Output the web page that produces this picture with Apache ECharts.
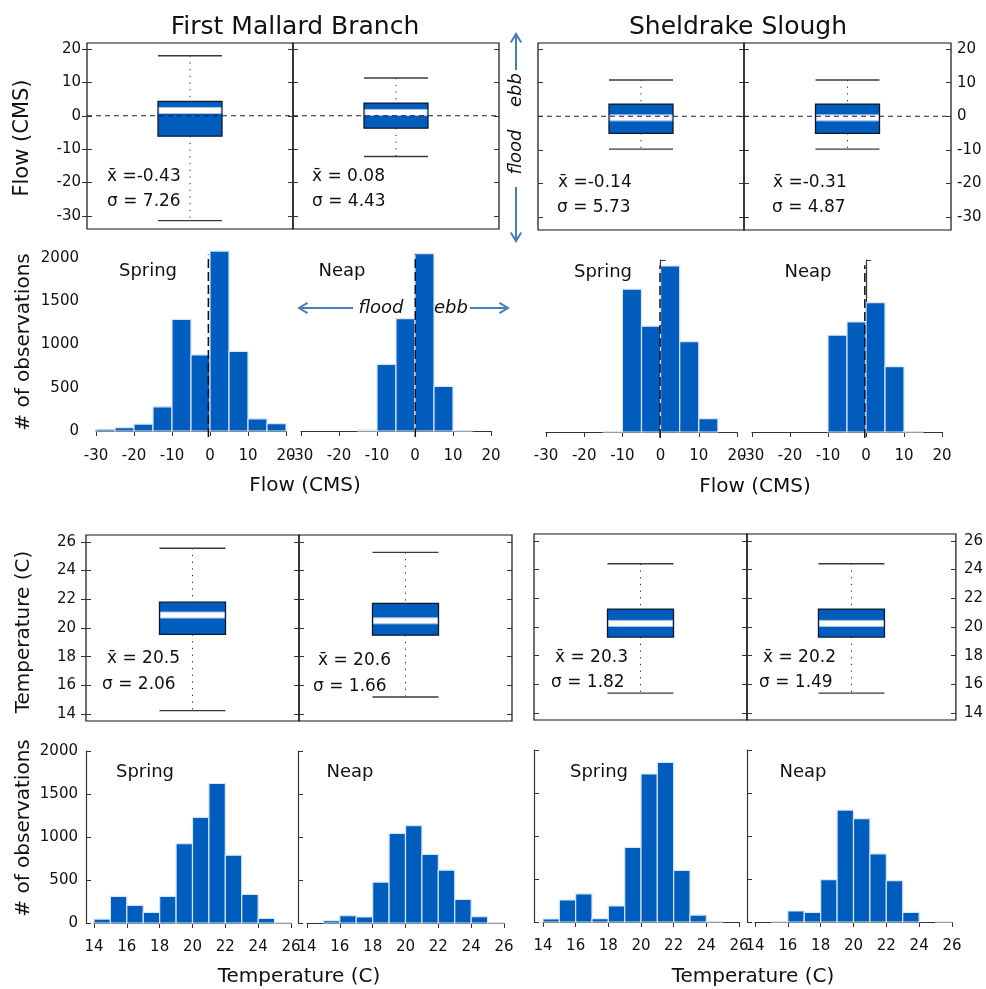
<!DOCTYPE html>
<html><head><meta charset="utf-8">
<script src="https://cdn.jsdelivr.net/npm/echarts@6/dist/echarts.min.js"></script>
<style>html,body{margin:0;padding:0;background:#fff}#c{width:986px;height:989px}</style>
</head><body><div id="c"></div>
<script>
// ---------------- DATA ----------------
const sites = ['First Mallard Branch', 'Sheldrake Slough'];
const tides = ['Spring', 'Neap', 'Spring', 'Neap'];

// Box-plot summaries [min, Q1, median, Q3, max]
const flowBoxSpringFMB = [-31.4, -6.1, 1.6, 4.3, 18.0];
const flowBoxNeapFMB   = [-12.2, -3.7, 1.0, 3.8, 11.3];
const flowBoxSpringSS  = [-9.8, -5.1, -0.5, 3.6, 10.8];
const flowBoxNeapSS    = [-9.8, -5.1, -0.5, 3.6, 10.8];
const tempBoxSpringFMB = [14.25, 19.55, 20.9, 21.8, 25.55];
const tempBoxNeapFMB   = [15.2, 19.5, 20.5, 21.72, 25.26];
const tempBoxSpringSS  = [15.4, 19.3, 20.25, 21.25, 24.4];
const tempBoxNeapSS    = [15.4, 19.3, 20.25, 21.25, 24.4];

const flowMeans = [-0.43, 0.08, -0.14, -0.31];
const flowSDs   = [7.26, 4.43, 5.73, 4.87];
const tempMeans = [20.5, 20.6, 20.3, 20.2];
const tempSDs   = [2.06, 1.66, 1.82, 1.49];

const flowBoxTicks = [-30, -20, -10, 0, 10, 20];
const tempBoxTicks = [14, 16, 18, 20, 22, 24, 26];

// Histogram bin edges and counts
const flowEdges = [-30, -25, -20, -15, -10, -5, 0, 5, 10, 15, 20];
const flowSpringFMB = [20, 40, 80, 280, 1290, 880, 2080, 920, 140, 85];
const flowNeapFMB   = [0, 0, 0, 10, 770, 1300, 2050, 515, 5, 0];
const flowSpringSS  = [0, 0, 0, 5, 1660, 1230, 1930, 1050, 155, 0];
const flowNeapSS    = [0, 0, 0, 0, 1125, 1280, 1505, 760, 3, 0];
const flowDashTop   = [2040, 2040, 1940, 1940];

const tempEdges = [14, 15, 16, 17, 18, 19, 20, 21, 22, 23, 24, 25, 26];
const tempSpringFMB = [46, 309, 205, 124, 309, 923, 1228, 1622, 788, 332, 54, 3];
const tempNeapFMB   = [0, 27, 85, 70, 475, 1042, 1131, 799, 614, 274, 73, 2];
const tempSpringSS  = [35, 256, 326, 39, 186, 868, 1721, 1857, 601, 81, 3, 0];
const tempNeapSS    = [0, 5, 128, 112, 492, 1302, 1202, 791, 481, 112, 0, 2];

// ---------------- BUILD ----------------
const FONT = 'DejaVu Sans';
const BLUE = '#005dbd';
const INK = '#111';
const ARROW = '#4a7ebb';
const grids = [], xAxes = [], yAxes = [], series = [], graphics = [];
const addGrid = g => (grids.push(g), grids.length - 1);
const addX = a => (xAxes.push(a), xAxes.length - 1);
const addY = a => (yAxes.push(a), yAxes.length - 1);
const plain = v => String(v);

function renderBox(halfW) {
  return function (params, api) {
    const y = v => api.coord([0, v])[1];
    const cx = api.coord([0, 0])[0];
    const lo = y(api.value(1)), q1 = y(api.value(2)), md = y(api.value(3)),
          q3 = y(api.value(4)), hi = y(api.value(5));
    const dot = { stroke: '#222', lineWidth: 1, lineDash: [1.2, 5.5] };
    const cap = { stroke: '#3a3a3a', lineWidth: 1.4 };
    return { type: 'group', children: [
      { type: 'line', shape: { x1: cx, y1: hi, x2: cx, y2: q3 }, style: dot },
      { type: 'line', shape: { x1: cx, y1: q1, x2: cx, y2: lo }, style: dot },
      { type: 'line', shape: { x1: cx - halfW, y1: hi, x2: cx + halfW, y2: hi }, style: cap },
      { type: 'line', shape: { x1: cx - halfW, y1: lo, x2: cx + halfW, y2: lo }, style: cap },
      { type: 'rect', shape: { x: cx - halfW, y: q3, width: 2 * halfW, height: q1 - q3 },
        style: { fill: BLUE, stroke: '#0d1a2b', lineWidth: 1.3 } },
      { type: 'rect', shape: { x: cx - halfW + 1, y: md - 3, width: 2 * halfW - 2, height: 6 },
        style: { fill: '#ffffff', stroke: '#a6c4ea', lineWidth: 1 } }
    ]};
  };
}

function renderBar(params, api) {
  const c = api.value(2);
  if (!c) return null;
  const p0 = api.coord([api.value(0), 0]);
  const p1 = api.coord([api.value(1), c]);
  return { type: 'rect',
    shape: { x: p0[0], y: p1[1], width: p1[0] - p0[0], height: p0[1] - p1[1] },
    style: { fill: BLUE, stroke: '#d6e5f7', lineWidth: 1.2 } };
}

function tickAxis(gi, min, max, ticks, position, inside, showLabel, margin) {
  addY({ gridIndex: gi, type: 'value', min, max, position,
    axisLine: { show: false }, splitLine: { show: false },
    axisTick: { show: true, inside, length: 5, customValues: ticks, lineStyle: { color: '#333', width: 1 } },
    axisLabel: { show: showLabel, customValues: ticks, margin, fontSize: 15, fontFamily: FONT, color: INK, formatter: plain } });
}

function boxPanel(p, ymin, ymax, ticks, stats, halfW, zero) {
  const gi = addGrid({ left: p.left, top: p.top, width: p.width, height: p.height,
    show: true, borderColor: '#111', borderWidth: 1.2 });
  const xi = addX({ gridIndex: gi, type: 'value', min: -1, max: 1, show: false });
  const yi = addY({ gridIndex: gi, type: 'value', min: ymin, max: ymax, show: false });
  tickAxis(gi, ymin, ymax, ticks, 'left', true, false, 0);
  if (p.leftCross) tickAxis(gi, ymin, ymax, ticks, 'left', false, !!p.labelsLeft, p.margin);
  if (p.rightTicks) tickAxis(gi, ymin, ymax, ticks, 'right', true, !!p.labelsRight, p.margin);
  series.push({ type: 'custom', xAxisIndex: xi, yAxisIndex: yi, silent: true,
    data: [[0].concat(stats)], encode: { x: 0, y: [1, 2, 3, 4, 5] }, renderItem: renderBox(halfW), z: 2 });
  if (zero) series.push({ type: 'line', xAxisIndex: xi, yAxisIndex: yi, silent: true, symbol: 'none', z: 5,
    data: [[-1, 0], [1, 0]], lineStyle: { color: '#222', width: 1.1, type: [5, 4] } });
}

function histPanel(p, xmin, xmax, xint, edges, counts, showY, dash) {
  const gi = addGrid({ left: p.left, top: p.top, width: p.width, height: p.height });
  const xi = addX({ gridIndex: gi, type: 'value', min: xmin, max: xmax, interval: xint, offset: p.xOff,
    axisLine: { show: true, lineStyle: { color: '#333', width: 1.2 } },
    axisTick: { show: true, inside: false, length: 5, lineStyle: { color: '#333' } },
    axisLabel: { show: true, margin: 10, fontSize: 15, fontFamily: FONT, color: INK, showMinLabel: true, showMaxLabel: true, formatter: plain },
    splitLine: { show: false } });
  const yi = addY({ gridIndex: gi, type: 'value', min: 0, max: 2000, interval: 500, offset: p.yOff,
    axisLine: { show: true, lineStyle: { color: '#333', width: 1.2 } },
    axisTick: { show: true, inside: true, length: 5, lineStyle: { color: '#333' } },
    axisLabel: { show: showY, margin: 8, fontSize: 15, fontFamily: FONT, color: INK, formatter: plain },
    splitLine: { show: false } });
  series.push({ type: 'custom', xAxisIndex: xi, yAxisIndex: yi, silent: true, clip: false,
    data: counts.map((c, i) => [edges[i], edges[i + 1], c]), encode: { x: [0, 1], y: 2 }, renderItem: renderBar });
  if (dash) series.push({ type: 'line', xAxisIndex: xi, yAxisIndex: yi, silent: true, symbol: 'none', clip: false, z: 5,
    data: [[dash[0], -70], [dash[0], dash[1]]], lineStyle: { color: '#111', width: 1.5, type: [9, 4], cap: 'butt' } });
}

function txt(text, x, y, size, o) {
  o = o || {};
  graphics.push({ type: 'text', x, y, rotation: o.rot || 0, z: 100, silent: true,
    style: { text, fontSize: size, fontFamily: FONT, fontStyle: o.italic ? 'italic' : 'normal',
      fill: o.color || INK, textAlign: o.align || 'center', textVerticalAlign: 'middle' } });
}
function arrow(x1, y1, x2, y2) {
  graphics.push({ type: 'line', z: 100, silent: true, shape: { x1, y1, x2, y2 }, style: { stroke: ARROW, lineWidth: 2 } });
  const a = Math.atan2(y2 - y1, x2 - x1), L = 10, w = 0.55;
  graphics.push({ type: 'polyline', z: 100, silent: true,
    shape: { points: [[x2 - L * Math.cos(a - w), y2 - L * Math.sin(a - w)], [x2, y2], [x2 - L * Math.cos(a + w), y2 - L * Math.sin(a + w)]] },
    style: { stroke: ARROW, lineWidth: 2, fill: null } });
}
const meanStr = (v, d) => 'x\u0304 ' + (v < 0 ? '=' + v.toFixed(d) : '= ' + v.toFixed(d));
const sdStr = v => '\u03c3 = ' + v.toFixed(2);

// Row 1: flow box plots
const flowBoxes = [flowBoxSpringFMB, flowBoxNeapFMB, flowBoxSpringSS, flowBoxNeapSS];
const flowBoxLayout = [
  { left: 87, top: 43, width: 206, height: 186, leftCross: true, labelsLeft: true, margin: 6 },
  { left: 293, top: 43, width: 206, height: 186, leftCross: true, rightTicks: true },
  { left: 538, top: 43, width: 206, height: 187 },
  { left: 744, top: 43, width: 207, height: 187, leftCross: true, rightTicks: true, labelsRight: true, margin: 6 }
];
flowBoxLayout.forEach((p, i) => boxPanel(p, -33.9, 21.8, flowBoxTicks, flowBoxes[i], 32, true));

// Row 2: flow histograms
const flowHists = [flowSpringFMB, flowNeapFMB, flowSpringSS, flowNeapSS];
const flowHistLayout = [
  { left: 96, top: 258, width: 190, height: 173, xOff: 8, yOff: 9 },
  { left: 301, top: 258, width: 190, height: 173, xOff: 8, yOff: 8 },
  { left: 546, top: 260, width: 191, height: 172, xOff: 7, yOff: 7 },
  { left: 752, top: 260, width: 190, height: 172, xOff: 7, yOff: 7 }
];
flowHistLayout.forEach((p, i) => histPanel(p, -30, 20, 10, flowEdges, flowHists[i], i === 0, [flowMeans[i], flowDashTop[i]]));

// Row 3: temperature box plots
const tempBoxes = [tempBoxSpringFMB, tempBoxNeapFMB, tempBoxSpringSS, tempBoxNeapSS];
const tempBoxLayout = [
  { left: 86, top: 535, width: 213, height: 186, leftCross: true, labelsLeft: true, margin: 10 },
  { left: 299, top: 535, width: 213, height: 186, leftCross: true, rightTicks: true },
  { left: 534, top: 534, width: 213, height: 186 },
  { left: 747, top: 534, width: 212, height: 186, leftCross: true, rightTicks: true, labelsRight: true, margin: 8 }
];
tempBoxLayout.forEach((p, i) => boxPanel(p, 13.53, 26.47, tempBoxTicks, tempBoxes[i], 33, false));

// Row 4: temperature histograms
const tempHists = [tempSpringFMB, tempNeapFMB, tempSpringSS, tempNeapSS];
const tempHistLayout = [
  { left: 94, top: 751, width: 197, height: 172, xOff: 7, yOff: 8 },
  { left: 307, top: 751, width: 197, height: 172, xOff: 7, yOff: 9 },
  { left: 543, top: 750, width: 196, height: 172, xOff: 7, yOff: 9 },
  { left: 755, top: 750, width: 197, height: 172, xOff: 7, yOff: 8 }
];
tempHistLayout.forEach((p, i) => histPanel(p, 14, 26, 2, tempEdges, tempHists[i], i === 0, null));

// Texts
txt(sites[0], 295, 27, 25);
txt(sites[1], 738, 27, 25);
txt('Flow (CMS)', 23, 138, 21, { rot: Math.PI / 2 });
txt('# of observations', 24, 342, 20, { rot: Math.PI / 2 });
txt('Temperature (C)', 24, 632, 20, { rot: Math.PI / 2 });
txt('# of observations', 24, 828, 20, { rot: Math.PI / 2 });
txt('Flow (CMS)', 305, 486, 20);
txt('Flow (CMS)', 755, 487, 20);
txt('Temperature (C)', 299, 977, 20);
txt('Temperature (C)', 753, 977, 20);

const flowTideXY = [[148, 271], [342, 271], [603, 272], [808, 272]];
const tempTideXY = [[145, 772], [350, 772], [599, 772], [803, 772]];
tides.forEach((t, i) => { txt(t, flowTideXY[i][0], flowTideXY[i][1], 18); txt(t, tempTideXY[i][0], tempTideXY[i][1], 18); });

const flowStatXY = [[107, 107, 177, 202], [312, 312, 177, 202], [558, 557, 183, 208], [773, 772, 183, 208]];
const tempStatXY = [[107, 102, 659, 685], [318, 313, 661, 687], [555, 551, 658, 683], [763, 759, 658, 683]];
flowStatXY.forEach((s, i) => { txt(meanStr(flowMeans[i], 2), s[0], s[2], 17, { align: 'left' }); txt(sdStr(flowSDs[i]), s[1], s[3], 17, { align: 'left' }); });
tempStatXY.forEach((s, i) => { txt(meanStr(tempMeans[i], 1), s[0], s[2], 17, { align: 'left' }); txt(sdStr(tempSDs[i]), s[1], s[3], 17, { align: 'left' }); });

// ebb / flood annotations
arrow(516, 70, 516, 34);
arrow(516, 187, 516, 241);
txt('ebb', 516, 90, 18, { rot: Math.PI / 2, italic: true });
txt('flood', 516, 152, 18, { rot: Math.PI / 2, italic: true });
arrow(353, 308, 299, 308);
arrow(470, 308, 508, 308);
txt('flood', 381, 308, 18, { italic: true });
txt('ebb', 451, 308, 18, { italic: true });

const chart = echarts.init(document.getElementById('c'), null, { renderer: 'canvas' });
chart.setOption({ animation: false, backgroundColor: '#fff', grid: grids, xAxis: xAxes, yAxis: yAxes, series, graphic: graphics });
</script></body></html>
